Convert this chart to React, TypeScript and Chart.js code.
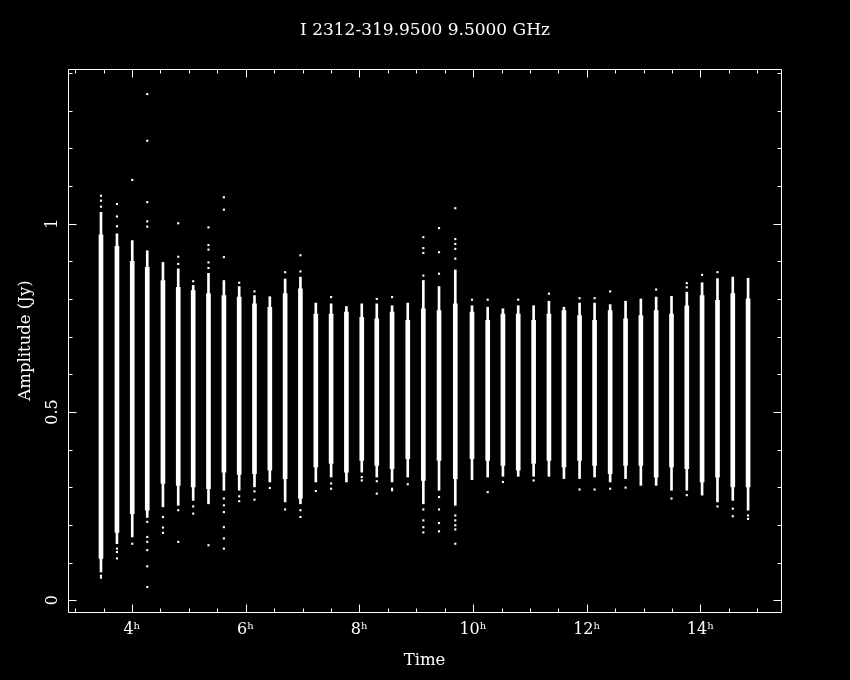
import React, { useEffect, useRef } from 'react';
import { Chart, registerables } from 'chart.js';

Chart.register(...registerables);

const FONT = "'DejaVu Serif', 'Liberation Serif', serif";
const titleText = 'I 2312-319.9500 9.5000 GHz';
const xTitle = 'Time';
const yTitle = 'Amplitude (Jy)';

// Scan centre times (hours)
const scanTimes = [
  3.455, 3.736, 4.005, 4.269, 4.545, 4.814, 5.077, 5.346, 5.617, 5.886,
  6.155, 6.425, 6.694, 6.963, 7.234, 7.503, 7.772, 8.042, 8.306, 8.575,
  8.851, 9.125, 9.401, 9.687, 9.981, 10.257, 10.525, 10.794, 11.065, 11.334,
  11.598, 11.873, 12.137, 12.411, 12.682, 12.951, 13.22, 13.49, 13.759, 14.028,
  14.299, 14.568, 14.837,
];
// Dense core of each scan (Jy)
const coreLow = [
  0.111, 0.18, 0.23, 0.239, 0.31, 0.305, 0.301, 0.296, 0.34, 0.334,
  0.336, 0.345, 0.323, 0.27, 0.354, 0.363, 0.34, 0.371, 0.358, 0.349,
  0.376, 0.318, 0.371, 0.323, 0.376, 0.371, 0.358, 0.345, 0.363, 0.371,
  0.354, 0.371, 0.358, 0.336, 0.358, 0.358, 0.327, 0.354, 0.349, 0.314,
  0.327, 0.301, 0.301,
];
const coreHigh = [
  0.97, 0.94, 0.9, 0.884, 0.849, 0.831, 0.822, 0.814, 0.809, 0.805,
  0.787, 0.778, 0.814, 0.827, 0.76, 0.76, 0.765, 0.751, 0.747, 0.765,
  0.743, 0.774, 0.769, 0.787, 0.765, 0.743, 0.76, 0.76, 0.743, 0.76,
  0.769, 0.756, 0.743, 0.769, 0.747, 0.756, 0.769, 0.76, 0.782, 0.809,
  0.796, 0.814, 0.8,
];
// Sparser fringe of each scan (Jy)
const fringeLow = [
  0.075, 0.15, 0.168, 0.22, 0.248, 0.252, 0.265, 0.256, 0.292, 0.292,
  0.301, 0.314, 0.261, 0.256, 0.314, 0.327, 0.314, 0.34, 0.327, 0.314,
  0.327, 0.256, 0.292, 0.252, 0.32, 0.327, 0.329, 0.329, 0.329, 0.329,
  0.323, 0.323, 0.327, 0.314, 0.323, 0.305, 0.305, 0.292, 0.292, 0.279,
  0.261, 0.265, 0.239,
];
const fringeHigh = [
  1.03, 0.973, 0.955, 0.928, 0.897, 0.88, 0.836, 0.868, 0.849, 0.833,
  0.809, 0.806, 0.853, 0.858, 0.789, 0.787, 0.78, 0.787, 0.787, 0.782,
  0.789, 0.849, 0.833, 0.877, 0.782, 0.778, 0.774, 0.782, 0.782, 0.794,
  0.778, 0.789, 0.789, 0.785, 0.794, 0.8, 0.805, 0.807, 0.818, 0.843,
  0.854, 0.858, 0.855,
];
// Isolated points of each scan (Jy)
const outliers: number[][] = [
  [1.074, 1.061, 1.045, 0.06, 0.065],
  [1.052, 1.019, 0.993, 0.137, 0.128, 0.111],
  [1.116, 0.15],
  [1.344, 1.22, 1.057, 1.006, 0.992, 0.208, 0.168, 0.155, 0.133, 0.09, 0.035],
  [0.221, 0.193, 0.179],
  [1.001, 0.912, 0.893, 0.239, 0.155],
  [0.847, 0.249, 0.23],
  [0.99, 0.943, 0.931, 0.897, 0.882, 0.146],
  [1.07, 1.037, 0.911, 0.27, 0.252, 0.234, 0.194, 0.164, 0.137],
  [0.843, 0.276, 0.263],
  [0.82, 0.289, 0.267],
  [0.298],
  [0.871, 0.241],
  [0.916, 0.873, 0.239, 0.221],
  [0.29],
  [0.805, 0.31, 0.296],
  [],
  [0.327, 0.318],
  [0.8, 0.316, 0.283],
  [0.805, 0.296, 0.292],
  [0.308],
  [0.964, 0.935, 0.922, 0.862, 0.241, 0.212, 0.194, 0.18],
  [0.988, 0.924, 0.867, 0.274, 0.241, 0.205, 0.183],
  [1.041, 0.959, 0.946, 0.933, 0.907, 0.225, 0.212, 0.199, 0.188, 0.15],
  [0.798],
  [0.798, 0.287],
  [0.314],
  [0.798],
  [0.318],
  [0.814],
  [],
  [0.802, 0.294],
  [0.802, 0.294],
  [0.82, 0.296],
  [0.299],
  [],
  [0.825],
  [0.27],
  [0.842, 0.831, 0.279],
  [0.864],
  [0.871, 0.249],
  [0.243, 0.223],
  [0.225, 0.216],
];

const xTickValues = [4, 6, 8, 10, 12, 14];
const yTickValues = [0, 0.5, 1];
const xMinorStep = 0.5;
const yMinorStep = 0.1;
const X_MIN = 2.875;
const X_MAX = 15.416;
const Y_MIN = -0.0313;
const Y_MAX = 1.4106;

const framePlugin = {
  id: 'frameTicks',
  beforeDraw(chart: any) {
    const ctx = chart.ctx;
    ctx.save();
    ctx.fillStyle = '#000';
    ctx.fillRect(0, 0, chart.width, chart.height);
    ctx.restore();
  },
  afterDraw(chart: any) {
    const { ctx, chartArea } = chart;
    const xs = chart.scales.x;
    const ys = chart.scales.y;
    const L = Math.round(chartArea.left) + 0.5;
    const R = Math.round(chartArea.right) + 0.5;
    const T = Math.round(chartArea.top) + 0.5;
    const B = Math.round(chartArea.bottom) + 0.5;
    ctx.save();
    ctx.strokeStyle = '#fff';
    ctx.lineWidth = 1;
    ctx.beginPath();
    ctx.rect(L, T, R - L, B - T);
    const isMajor = (v: number, majors: number[]) => majors.some((m) => Math.abs(m - v) < 1e-6);
    for (let k = Math.ceil(X_MIN / xMinorStep); k * xMinorStep <= X_MAX; k++) {
      const v = k * xMinorStep;
      const px = Math.round(xs.getPixelForValue(v)) + 0.5;
      const len = isMajor(v, xTickValues) ? 8 : 4;
      ctx.moveTo(px, B);
      ctx.lineTo(px, B - len);
      ctx.moveTo(px, T);
      ctx.lineTo(px, T + len);
    }
    for (let k = Math.ceil(Y_MIN / yMinorStep); k * yMinorStep <= Y_MAX; k++) {
      const v = Math.round(k * yMinorStep * 1000) / 1000;
      const py = Math.round(ys.getPixelForValue(v)) + 0.5;
      const len = isMajor(v, yTickValues) ? 8 : 4;
      ctx.moveTo(L, py);
      ctx.lineTo(L + len, py);
      ctx.moveTo(R, py);
      ctx.lineTo(R - len, py);
    }
    ctx.stroke();
    ctx.restore();
  },
};

export default function App() {
  const ref = useRef<HTMLCanvasElement | null>(null);

  useEffect(() => {
    document.body.style.margin = '0';
    document.body.style.background = '#000';
    const canvas = ref.current;
    if (!canvas) return;

    const coreData = scanTimes.map((t, i) => ({ x: t, y: [coreLow[i], coreHigh[i]] }));
    const upperFringe = scanTimes.map((t, i) => ({ x: t, y: [coreHigh[i], fringeHigh[i]] }));
    const lowerFringe = scanTimes.map((t, i) => ({ x: t, y: [fringeLow[i], coreLow[i]] }));
    const pointData: { x: number; y: number }[] = [];
    scanTimes.forEach((t, i) => outliers[i].forEach((v) => pointData.push({ x: t, y: v })));

    const barCommon = {
      type: 'bar' as const,
      backgroundColor: '#ffffff',
      borderWidth: 0,
      grouped: false,
    };

    const chart = new Chart(canvas, {
      type: 'bar',
      data: {
        datasets: [
          { ...barCommon, label: 'core', data: coreData as any, barThickness: 4 },
          { ...barCommon, label: 'upper', data: upperFringe as any, barThickness: 2 },
          { ...barCommon, label: 'lower', data: lowerFringe as any, barThickness: 2 },
          {
            type: 'scatter' as any,
            label: 'points',
            data: pointData as any,
            pointStyle: 'rect',
            pointRadius: 1.5,
            pointBorderWidth: 0,
            backgroundColor: '#ffffff',
            borderColor: '#ffffff',
          } as any,
        ],
      },
      options: {
        responsive: false,
        animation: false,
        devicePixelRatio: 1,
        layout: { padding: 0 },
        plugins: {
          legend: { display: false },
          tooltip: { enabled: false },
          title: {
            display: true,
            text: titleText,
            color: '#ffffff',
            font: { family: FONT, size: 17, weight: 'normal' },
            padding: { top: 20, bottom: 28.6 },
          },
        },
        scales: {
          x: {
            type: 'linear',
            min: X_MIN,
            max: X_MAX,
            offset: false,
            grid: { display: false, drawTicks: false },
            border: { display: false },
            afterFit: (s: any) => {
              s.height = 68;
            },
            afterBuildTicks: (s: any) => {
              s.ticks = xTickValues.map((value) => ({ value }));
            },
            ticks: {
              color: '#ffffff',
              font: { family: FONT, size: 16 },
              padding: 8,
              minRotation: 0,
              maxRotation: 0,
              autoSkip: false,
              callback: (v: any) => `${v}ʰ`,
            },
            title: {
              display: true,
              text: xTitle,
              color: '#ffffff',
              font: { family: FONT, size: 16.5 },
              padding: { top: 0, bottom: 9 },
            },
          },
          y: {
            type: 'linear',
            min: Y_MIN,
            max: Y_MAX,
            grid: { display: false, drawTicks: false },
            border: { display: false },
            afterFit: (s: any) => {
              s.width = 68;
            },
            afterBuildTicks: (s: any) => {
              s.ticks = yTickValues.map((value) => ({ value }));
            },
            ticks: {
              color: '#ffffff',
              font: { family: FONT, size: 16 },
              padding: 2,
              minRotation: 90,
              maxRotation: 90,
              crossAlign: 'center',
              autoSkip: false,
              callback: (v: any) => String(v),
            },
            title: {
              display: true,
              text: yTitle,
              color: '#ffffff',
              font: { family: FONT, size: 16.5 },
              padding: { top: 16, bottom: 0 },
            },
          },
          yRight: {
            type: 'linear',
            position: 'right',
            min: Y_MIN,
            max: Y_MAX,
            grid: { display: false, drawTicks: false },
            border: { display: false },
            ticks: { display: false },
            afterFit: (s: any) => {
              s.width = 69;
            },
          },
        },
      } as any,
      plugins: [framePlugin],
    });

    return () => chart.destroy();
  }, []);

  return (
    <div style={{ width: 850, height: 680, background: '#000' }}>
      <canvas ref={ref} width={850} height={680} style={{ display: 'block' }} />
    </div>
  );
}
